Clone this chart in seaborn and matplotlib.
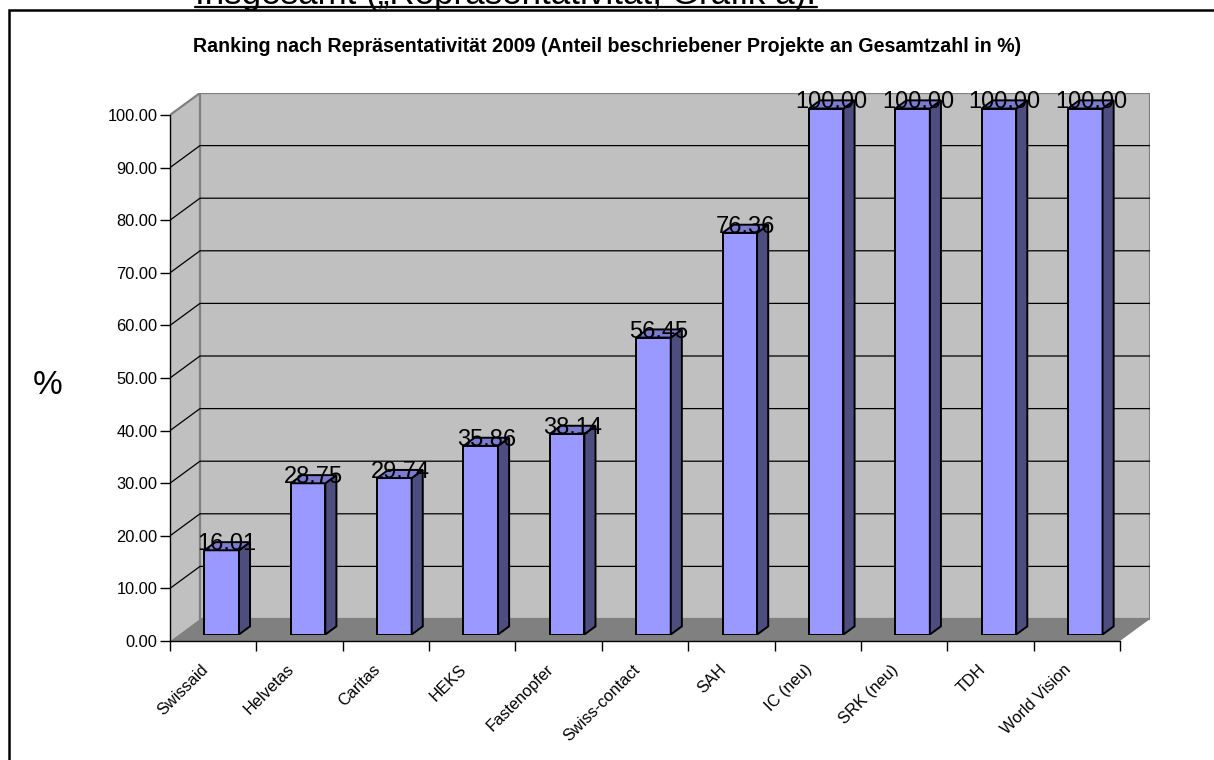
import numpy as np
import pandas as pd
import matplotlib
matplotlib.use("Agg")
import matplotlib.pyplot as plt
import seaborn as sns
from matplotlib.patches import Polygon, Rectangle
from matplotlib.lines import Line2D
from matplotlib.transforms import ScaledTranslation

# ---------------- data ----------------
categories = ["Swissaid", "Helvetas", "Caritas", "HEKS", "Fastenopfer",
              "Swiss-contact", "SAH", "IC (neu)", "SRK (neu)", "TDH", "World Vision"]
values = [16.01, 28.75, 29.74, 35.86, 38.14, 56.45, 76.36, 100.00, 100.00, 100.00, 100.00]
y_ticks = list(range(0, 101, 10))
title = "Ranking nach Repräsentativität 2009 (Anteil beschriebener Projekte an Gesamtzahl in %)"
header = "Insgesamt („Repräsentativität, Grafik a)."
y_label = "%"

# ---------------- style ----------------
sns.set_style("white")
plt.rcParams["font.family"] = ["Liberation Sans", "DejaVu Sans"]
plt.rcParams.update({"text.color": "black", "axes.labelcolor": "black",
                     "xtick.color": "black", "ytick.color": "black"})

W, H, DPI = 1214, 760, 100
fig = plt.figure(figsize=(W / DPI, H / DPI), dpi=DPI)
fig.patch.set_facecolor("white")

# geometry (pixels)
X0, Y0 = 170, 641          # front origin
CAT_PX = 86.36             # px per category
UNIT_PX = 5.26             # px per percent
DEPTH_PX = (30, 22)        # wall depth offset
BAR_SHIFT_PX = (8.5, 6.5)  # bar front-face depth offset
BAR_DEPTH_FRAC = 0.37
n = len(categories)

ax_w = (n * CAT_PX + DEPTH_PX[0]) / W
ax_h = (100 * UNIT_PX + DEPTH_PX[1]) / H
xlim = (-0.5, -0.5 + n + DEPTH_PX[0] / CAT_PX)
ylim = (0, 100 + DEPTH_PX[1] / UNIT_PX)
DX = DEPTH_PX[0] / CAT_PX
DY = DEPTH_PX[1] / UNIT_PX

ax = fig.add_axes([X0 / W, (H - Y0) / H, ax_w, ax_h])
ax.set_xlim(*xlim)
ax.set_ylim(*ylim)
ax.patch.set_visible(False)

L, R = -0.5, n - 0.5
wall_c, floor_c, edge_c = "#c0c0c0", "#808080", "#808080"
# side wall
ax.add_patch(Polygon([(L, 0), (L + DX, DY), (L + DX, 100 + DY), (L, 100)],
                     closed=True, fc=wall_c, ec="none", zorder=0))
# back wall
ax.add_patch(Polygon([(L + DX, DY), (R + DX, DY), (R + DX, 100 + DY), (L + DX, 100 + DY)],
                     closed=True, fc=wall_c, ec=edge_c, lw=1.6, zorder=0.5))
# floor
ax.add_patch(Polygon([(L, 0), (R, 0), (R + DX, DY), (L + DX, DY)],
                     closed=True, fc=floor_c, ec="none", zorder=0.6))
# side wall top edge
ax.add_line(Line2D([L, L + DX], [100, 100 + DY], color=edge_c, lw=1.6, zorder=0.7))
# gridlines on walls
for v in y_ticks[1:-1]:
    ax.add_line(Line2D([L, L + DX, R + DX], [v, v + DY, v + DY],
                       color="black", lw=0.9, zorder=0.8))

# axes styling
for s in ["top", "right"]:
    ax.spines[s].set_visible(False)
ax.spines["left"].set_bounds(0, 100)
ax.spines["bottom"].set_bounds(L, R)
for s in ["left", "bottom"]:
    ax.spines[s].set_color("black")
    ax.spines[s].set_linewidth(1.0)
    ax.spines[s].set_zorder(3)

ax.set_yticks(y_ticks)
ax.set_yticklabels([f"{t:.2f}" for t in y_ticks], fontsize=11.8)
ax.tick_params(axis="y", length=7, width=1, pad=2, color="black", direction="out", left=True)

ax.set_xticks(np.arange(n))
ax.set_xticklabels(categories, fontsize=11.8, rotation=45, ha="right",
                   rotation_mode="anchor")
ax.set_xticks(np.arange(n + 1) - 0.5, minor=True)
ax.tick_params(axis="x", which="major", length=0, pad=15)
ax.tick_params(axis="x", which="minor", length=7, width=1, color="black",
               direction="out", bottom=True)
for lab in ax.get_xticklabels():
    lab.set_transform(lab.get_transform() + ScaledTranslation(-13 / DPI, 0, fig.dpi_scale_trans))

ax.set_xlabel("")
ax.set_ylabel(y_label, rotation=0, fontsize=24, ha="center", va="center")
ax.yaxis.set_label_coords((48 - X0) / (ax_w * W), (Y0 - 385) / (ax_h * H))

# ---------------- bars ----------------
axb = fig.add_axes([(X0 + BAR_SHIFT_PX[0]) / W, (H - Y0 + BAR_SHIFT_PX[1]) / H, ax_w, ax_h])
df = pd.DataFrame({"Organisation": categories, "Anteil": values})
sns.barplot(data=df, x="Organisation", y="Anteil", order=categories, ax=axb,
            width=0.4, color="#9999ff", saturation=1, edgecolor="black", linewidth=1.4)
axb.set_xlim(*xlim)
axb.set_ylim(*ylim)
axb.axis("off")
axb.patch.set_visible(False)

bdx, bdy = BAR_DEPTH_FRAC * DX, BAR_DEPTH_FRAC * DY
for p in list(axb.patches):
    x0, w, v = p.get_x(), p.get_width(), p.get_height()
    axb.add_patch(Polygon([(x0 + w, 0), (x0 + w + bdx, bdy), (x0 + w + bdx, v + bdy), (x0 + w, v)],
                          closed=True, fc="#4d4d80", ec="black", lw=1.4, zorder=2))
    axb.add_patch(Polygon([(x0, v), (x0 + w, v), (x0 + w + bdx, v + bdy), (x0 + bdx, v + bdy)],
                          closed=True, fc="#7b7bd0", ec="black", lw=1.4, zorder=2))
    axb.text(x0 + w / 2 + bdx / 2, v, f"{v:.2f}", ha="center", va="baseline",
             fontsize=17, color="black", zorder=4, clip_on=False)

# ---------------- titles & frame ----------------
t = fig.text(607 / W, 1 - 47 / H, title, ha="center", va="center",
             fontsize=12.2, fontweight="bold", color="black")
hd = fig.text(195 / W, 1 - 4 / H, header, ha="left", va="baseline", fontsize=24,
              color="black")

fig.canvas.draw()
r = fig.canvas.get_renderer()
tw = t.get_window_extent(r).width
t.set_fontsize(12.2 * 825 / tw)
hw = hd.get_window_extent(r).width
hd.set_fontsize(24 * 622 / hw)

fig.add_artist(Line2D([195 / W, 817 / W], [1 - 7 / H, 1 - 7 / H], transform=fig.transFigure,
                      color="black", lw=1.6))
fig.add_artist(Rectangle((8.5 / W, -0.2), 1.2, 1.2 - 10 / H, transform=fig.transFigure,
                         fill=False, ec="black", lw=1.8, clip_on=False))

fig.savefig("out.png", dpi=DPI, facecolor="white")
